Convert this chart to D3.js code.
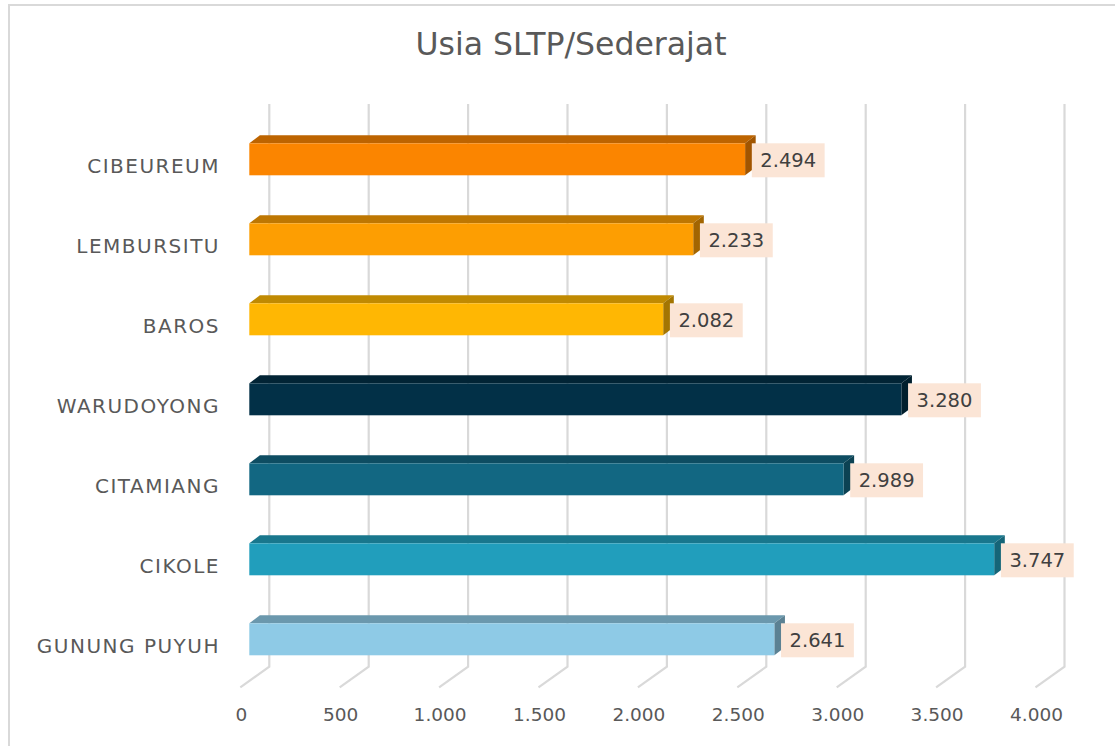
<!DOCTYPE html>
<html>
<head>
<meta charset="utf-8">
<script src="https://cdn.jsdelivr.net/npm/d3@7"></script>
<style>
  body { margin: 0; background: #fff; }
  svg { display: block; font-family: "DejaVu Sans", sans-serif; }
</style>
</head>
<body>
<script>
const categories = ["CIBEUREUM", "LEMBURSITU", "BAROS", "WARUDOYONG", "CITAMIANG", "CIKOLE", "GUNUNG PUYUH"];
const values = [2494, 2233, 2082, 3280, 2989, 3747, 2641];
const colors = ["#FB8500", "#FD9E02", "#FFB703", "#023047", "#126782", "#219EBC", "#8ECAE6"];
const ticks = [0, 500, 1000, 1500, 2000, 2500, 3000, 3500, 4000];

const width = 1115;
const height = 746;

const svg = d3.select("body").append("svg")
  .attr("width", width)
  .attr("height", height);

// bingkai
svg.append("rect")
  .attr("x", 9).attr("y", 5)
  .attr("width", width).attr("height", height)
  .attr("fill", "#fff")
  .attr("stroke", "#d9d9d9")
  .attr("stroke-width", 2);

svg.append("text")
  .attr("x", 571).attr("y", 55)
  .attr("text-anchor", "middle")
  .attr("font-size", 31.5)
  .attr("fill", "#595959")
  .text("Usia SLTP/Sederajat");

// skala depan batang
const x = d3.scaleLinear()
  .domain([0, 4000])
  .range([249.3, 1044.5]);

const y = d3.scaleBand()
  .domain(categories)
  .range([119.3, 679.3])
  .paddingInner(0.6)
  .paddingOuter(0.3);

const depth = { dx: 10.6, dy: -8 };
const wallDx = 20, floorDx = -9;
const gridTop = 104, floorBack = 666.7, floorFront = 687.3;

// garis grid dinding belakang + lantai
const grid = svg.append("g");
grid.selectAll("path")
  .data(ticks)
  .join("path")
  .attr("d", v => `M${x(v) + wallDx},${gridTop}V${floorBack}L${x(v) + floorDx},${floorFront}`)
  .attr("fill", "none")
  .attr("stroke", "#d9d9d9")
  .attr("stroke-width", 2.2);

// sumbu x
const fmt = d3.formatLocale({ decimal: ",", thousands: ".", grouping: [3], currency: ["Rp", ""] }).format(",d");
const xAxis = svg.append("g")
  .attr("transform", `translate(-8.5,${floorFront})`)
  .call(d3.axisBottom(x).tickValues(ticks).tickFormat(fmt).tickSize(0).tickPadding(0));
xAxis.select(".domain").remove();
xAxis.selectAll("text")
  .attr("font-family", "DejaVu Sans, sans-serif")
  .attr("font-size", 18.5)
  .attr("fill", "#595959")
  .attr("y", 0)
  .attr("dy", 0)
  .attr("transform", "translate(0,33.5)");

// sumbu y
const yAxis = svg.append("g")
  .attr("transform", "translate(220,7)")
  .call(d3.axisLeft(y).tickSize(0).tickPadding(0));
yAxis.select(".domain").remove();
yAxis.selectAll("text")
  .attr("font-family", "DejaVu Sans, sans-serif")
  .attr("font-size", 20)
  .attr("letter-spacing", 1.5)
  .attr("fill", "#595959");

// batang 3D
const data = categories.map((c, i) => ({ cat: c, value: values[i], color: colors[i] }));
const bars = svg.append("g").selectAll("g")
  .data(data)
  .join("g");

bars.append("path") // atas
  .attr("d", d => {
    const x0 = x(0), x1 = x(d.value), t = y(d.cat);
    return `M${x0},${t}L${x0 + depth.dx},${t + depth.dy}L${x1 + depth.dx},${t + depth.dy}L${x1},${t}Z`;
  })
  .attr("fill", d => d3.color(d.color).darker(0.8));

bars.append("path") // samping
  .attr("d", d => {
    const x1 = x(d.value), t = y(d.cat), b = t + y.bandwidth();
    return `M${x1},${t}L${x1 + depth.dx},${t + depth.dy}L${x1 + depth.dx},${b + depth.dy}L${x1},${b}Z`;
  })
  .attr("fill", d => d3.color(d.color).darker(1.25));

bars.append("rect") // depan
  .attr("x", x(0))
  .attr("y", d => y(d.cat))
  .attr("width", d => x(d.value) - x(0))
  .attr("height", y.bandwidth())
  .attr("fill", d => d.color);

// label nilai
const labels = svg.append("g").selectAll("g")
  .data(data)
  .join("g")
  .attr("transform", d => `translate(${x(d.value) + 6.7},${y(d.cat)})`);

const boxes = labels.append("rect")
  .attr("height", 34)
  .attr("fill", "#fbe5d6");

const texts = labels.append("text")
  .attr("x", 8.5)
  .attr("y", 17)
  .attr("dy", "0.36em")
  .attr("font-size", 19.5)
  .attr("fill", "#404040")
  .text(d => fmt(d.value));

texts.each(function (d, i) {
  d3.select(boxes.nodes()[i]).attr("width", this.getComputedTextLength() + 17);
});
</script>
</body>
</html>
